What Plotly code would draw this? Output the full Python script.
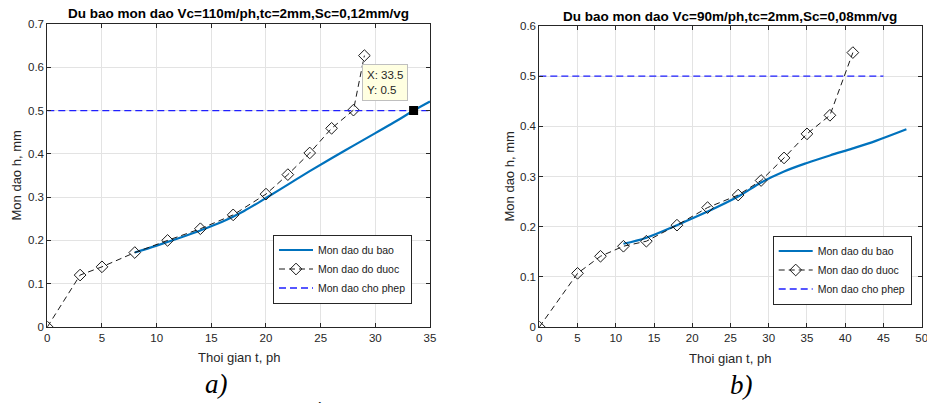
import plotly.graph_objects as go

# ---- Chart a) data ----
a_meas_t = [0, 3, 5, 8, 11, 14, 17, 20, 22, 24, 26, 28, 29]
a_meas_h = [0, 0.12, 0.139, 0.172, 0.2, 0.227, 0.259, 0.307, 0.352, 0.402, 0.459, 0.501, 0.627]
a_pred_t = [8, 10, 12, 14, 16, 18, 20, 22, 24, 26, 28, 30, 32, 33.5, 35]
a_pred_h = [0.172, 0.188, 0.205, 0.223, 0.243, 0.268, 0.298, 0.329, 0.36, 0.39, 0.419, 0.448, 0.477, 0.5, 0.521]
a_allow_t = [0, 35]
a_allow_h = [0.5, 0.5]
a_tip = (33.5, 0.5)

# ---- Chart b) data ----
b_meas_t = [0, 5, 8, 11, 14, 18, 22, 26, 29, 32, 35, 38, 41]
b_meas_h = [0, 0.107, 0.141, 0.161, 0.171, 0.203, 0.238, 0.263, 0.292, 0.337, 0.385, 0.422, 0.547]
b_pred_t = [11, 14, 18, 22, 26, 29, 32, 35, 38, 41, 44, 48]
b_pred_h = [0.166, 0.178, 0.203, 0.23, 0.26, 0.288, 0.31, 0.327, 0.342, 0.356, 0.371, 0.394]
b_allow_t = [0, 45]
b_allow_h = [0.5, 0.5]

a_xticks = [0, 5, 10, 15, 20, 25, 30, 35]
a_yticks = [0, 0.1, 0.2, 0.3, 0.4, 0.5, 0.6, 0.7]
b_xticks = [0, 5, 10, 15, 20, 25, 30, 35, 40, 45, 50]
b_yticks = [0, 0.1, 0.2, 0.3, 0.4, 0.5, 0.6]

names = ["Mon dao du bao", "Mon dao do duoc", "Mon dao cho phep"]
titles = ["Du bao mon dao Vc=110m/ph,tc=2mm,Sc=0,12mm/vg",
          "Du bao mon dao Vc=90m/ph,tc=2mm,Sc=0,08mm/vg"]
xlabel = "Thoi gian t, ph"
ylabel = "Mon dao h, mm"

BLUE = "#0072BD"
FONT = "Liberation Sans, Arial, sans-serif"
TICKC = "#262626"

fig = go.Figure()

def add_set(xa, ya, leg, pred_t, pred_h, meas_t, meas_h, allow_t, allow_h):
    fig.add_trace(go.Scatter(x=pred_t, y=pred_h, mode="lines", name=names[0],
                             line=dict(color=BLUE, width=2.2, shape="spline"),
                             xaxis=xa, yaxis=ya, legend=leg))
    fig.add_trace(go.Scatter(x=meas_t, y=meas_h, mode="lines+markers", name=names[1],
                             line=dict(color="#1a1a1a", width=1, dash="6px,4px"),
                             marker=dict(symbol="diamond-open", size=9,
                                         color="#1a1a1a", line=dict(width=1)),
                             xaxis=xa, yaxis=ya, legend=leg))
    fig.add_trace(go.Scatter(x=allow_t, y=allow_h, mode="lines", name=names[2],
                             line=dict(color="#1f1fff", width=1.3, dash="7px,4px"),
                             xaxis=xa, yaxis=ya, legend=leg))

add_set("x", "y", "legend", a_pred_t, a_pred_h, a_meas_t, a_meas_h, a_allow_t, a_allow_h)
add_set("x2", "y2", "legend2", b_pred_t, b_pred_h, b_meas_t, b_meas_h, b_allow_t, b_allow_h)

# data tip marker
fig.add_trace(go.Scatter(x=[a_tip[0]], y=[a_tip[1]], mode="markers", showlegend=False,
                         marker=dict(symbol="square", size=9, color="black"),
                         xaxis="x", yaxis="y"))

W, H = 927, 403

axcommon = dict(showline=True, linecolor=TICKC, linewidth=1, mirror="ticks",
                ticks="inside", ticklen=4, tickcolor=TICKC, automargin=False,
                ticklabeloverflow="allow",
                showgrid=True, gridcolor="#e3e3e3", gridwidth=1, zeroline=False,
                tickfont=dict(family=FONT, size=11.5, color=TICKC))

legcommon = dict(xanchor="left", yanchor="middle",
                 bgcolor="white", bordercolor="#262626", borderwidth=1,
                 font=dict(family=FONT, size=10.5, color="#1a1a1a"),
                 tracegroupgap=0, itemwidth=34)

fig.update_layout(
    width=W, height=H, margin=dict(l=0, r=0, t=0, b=0, autoexpand=False),
    paper_bgcolor="white", plot_bgcolor="white",
    xaxis=dict(domain=[47.3 / W, 430 / W], range=[0, 35], tickvals=a_xticks, **axcommon),
    yaxis=dict(domain=[(H - 327) / H, (H - 24) / H], range=[0, 0.7], tickvals=a_yticks,
               ticktext=["0", "0.1", "0.2", "0.3", "0.4", "0.5", "0.6", "0.7"], **axcommon),
    xaxis2=dict(domain=[539.3 / W, 921.7 / W], range=[0, 50], tickvals=b_xticks,
                anchor="y2", **axcommon),
    yaxis2=dict(domain=[(H - 327) / H, (H - 26) / H], range=[0, 0.6], tickvals=b_yticks,
                ticktext=["0", "0.1", "0.2", "0.3", "0.4", "0.5", "0.6"],
                anchor="x2", **axcommon),
    legend=dict(x=273 / W, y=(H - 269) / H, **legcommon),
    legend2=dict(x=772.7 / W, y=(H - 270) / H, **legcommon),
    showlegend=True,
)

def A(x, y, text, size=13, color=TICKC, family=FONT, **kw):
    d = dict(x=x / W, y=(H - y) / H, xref="paper", yref="paper", showarrow=False,
             xanchor="center", yanchor="middle", text=text,
             font=dict(family=family, size=size, color=color))
    d.update(kw)
    return d

ann = [
    A(238.5, 14, "<b>" + titles[0] + "</b>", size=13.5, color="black"),
    A(730, 16, "<b>" + titles[1] + "</b>", size=13.5, color="black"),
    A(238.5, 357, xlabel),
    A(730, 358, xlabel),
    A(16, 175.5, ylabel, textangle=-90),
    A(509, 176.5, ylabel, textangle=-90),
    A(216, 384, "<i>a)</i>", size=27, color="black", family="Liberation Serif, serif"),
    A(741, 385, "<i>b)</i>", size=27, color="black", family="Liberation Serif, serif"),
    A(319, 407, "´", size=14, color="black", family="Liberation Serif, serif"),
    dict(x=a_tip[0], y=a_tip[1], xref="x", yref="y", showarrow=False,
         xanchor="right", yanchor="bottom", xshift=-6, yshift=10, align="left",
         text="X: %g<br>Y: %g" % a_tip, bgcolor="#ffffe1", bordercolor="#bfbfbf",
         borderwidth=1, borderpad=4,
         font=dict(family=FONT, size=11.5, color="#262626")),
]
fig.update_layout(annotations=ann)

fig.write_html("out.html", config={"displayModeBar": False},
               post_script="document.body.style.margin='0px';")
